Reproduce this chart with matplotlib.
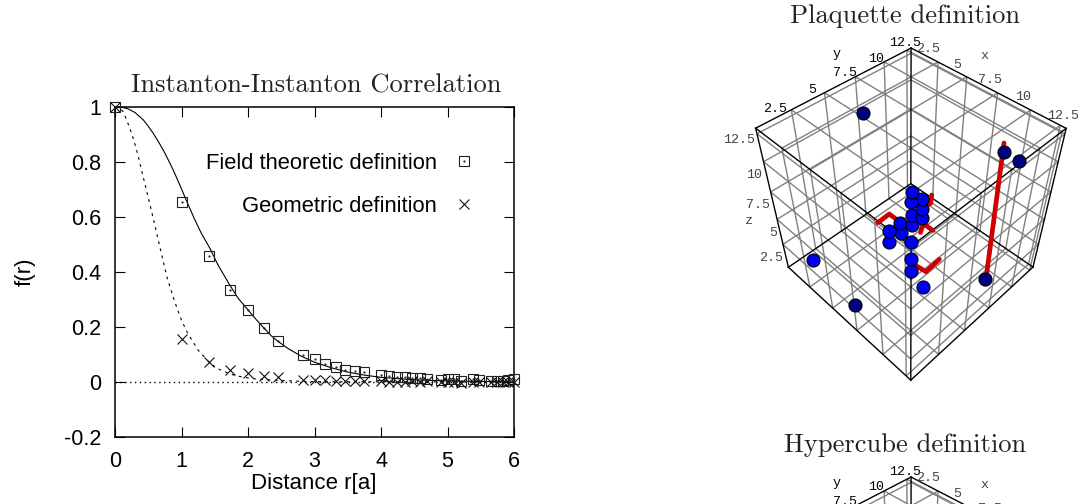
import numpy as np
import matplotlib
matplotlib.use("Agg")
import matplotlib.pyplot as plt
from matplotlib.legend_handler import HandlerTuple

# ---- correlation data ----
dist = [0.0, 1.0, 1.414, 1.732, 2.0, 2.236, 2.449, 2.828, 3.0, 3.162, 3.317, 3.464, 3.606, 3.742,
        4.0, 4.123, 4.243, 4.359, 4.472, 4.583, 4.690, 4.899, 5.0, 5.099, 5.196, 5.385, 5.477,
        5.657, 5.745, 5.831, 5.916, 6.0]
field_vals = [1.0, 0.655, 0.46, 0.335, 0.262, 0.197, 0.15, 0.098, 0.082, 0.065, 0.055, 0.045, 0.04, 0.035,
              0.027, 0.022, 0.02, 0.017, 0.016, 0.013, 0.012, 0.008, 0.012, 0.012, 0.004, 0.01, 0.008,
              0.005, 0.004, 0.003, 0.006, 0.01]
geom_vals = [1.0, 0.158, 0.072, 0.043, 0.033, 0.022, 0.019, 0.008, 0.007, 0.006, 0.005, 0.005, 0.004, 0.004,
             0.002, 0.001, 0.001, 0.001, 0.002, 0.001, 0.002, 0.001, 0.0, 0.0, -0.002, 0.0, 0.0,
             0.0, 0.0, -0.001, 0.0, 0.0]
solid_r = [0.0, 0.06, 0.125, 0.2, 0.3, 0.426, 0.5, 0.576, 0.65, 0.727, 0.8, 0.877, 0.95, 1.03,
           1.1, 1.2, 1.3, 1.43, 1.55, 1.72, 1.85, 2.0, 2.12, 2.236, 2.35, 2.45, 2.6, 2.8, 3.0, 3.25, 3.5,
           3.75, 4.0, 4.5, 5.0, 5.5, 6.0]
solid_f = [1.0, 0.9995, 0.998, 0.993, 0.98, 0.953, 0.93, 0.904, 0.875, 0.843, 0.808, 0.77, 0.73, 0.685,
           0.645, 0.59, 0.54, 0.485, 0.425, 0.355, 0.305, 0.262, 0.228, 0.197, 0.168, 0.148, 0.122, 0.094, 0.072, 0.052, 0.036,
           0.025, 0.017, 0.008, 0.004, 0.002, 0.0]
dash_r = [0.0, 0.06, 0.125, 0.18, 0.25, 0.3, 0.35, 0.42, 0.49, 0.57, 0.65, 0.72, 0.786, 0.866, 0.93, 1.0, 1.08, 1.25, 1.4, 1.53,
          1.7, 1.83, 2.07, 2.5, 3.0, 6.0]
dash_f = [1.0, 0.997, 0.983, 0.95, 0.904, 0.865, 0.82, 0.75, 0.68, 0.6, 0.516, 0.445, 0.377, 0.316, 0.27, 0.225, 0.183, 0.116, 0.076, 0.05,
          0.032, 0.022, 0.012, 0.005, 0.001, 0.0]
x_ticks = [0, 1, 2, 3, 4, 5, 6]
y_ticks = [-0.2, 0, 0.2, 0.4, 0.6, 0.8, 1]
y_tick_labels = ["-0.2", "0", "0.2", "0.4", "0.6", "0.8", "1"]

# ---- lattice views ----
grid_levels = [2.5, 5.0, 7.5, 10.0, 12.1]
box = 12.5
# sphere positions as they appear on the projected view
sphere_u = [862.7, 1004.0, 1019.3, 813.0, 855.0, 985.3, 922.7, 911.3, 911.3, 911.3, 889.3, 900.7, 889.3,
            900.3, 911.7, 911.5, 922.0, 921.7, 921.5, 911.3, 911.5]
sphere_v = [112.7, 152.3, 161.0, 259.7, 305.0, 279.0, 287.2, 271.3, 259.3, 241.5, 241.7, 233.3, 231.0,
            222.5, 224.7, 215.0, 218.0, 209.2, 198.8, 202.3, 192.2]
sphere_dark = [1, 1, 1, 0, 1, 1, 0, 0, 0, 0, 0, 0, 0, 0, 0, 0, 0, 0, 0, 0, 0]
link_paths = [
    ([1004.0, 985.3], [143.0, 284.0]),
    ([931.7, 930.7, 925.0], [195.0, 203.3, 206.0]),
    ([877.7, 889.3, 900.0], [222.7, 214.0, 222.0]),
    ([920.5, 923.3, 932.7], [232.5, 223.3, 230.5]),
    ([915.0, 926.0, 939.3], [265.0, 271.7, 259.3]),
]
cube_labels = [
    ("12.5", 905.0, 43.0, "k"), ("2.5", 928.3, 49.3, "g"), ("y", 836.7, 54.0, "k"), ("10", 876.0, 58.5, "k"),
    ("x", 984.3, 55.7, "g"), ("5", 957.3, 64.7, "g"), ("7.5", 845.0, 73.3, "k"), ("7.5", 990.0, 80.0, "g"),
    ("5", 812.0, 90.0, "k"), ("10", 1023.3, 97.0, "g"), ("2.5", 775.3, 108.7, "k"), ("12.5", 1063.3, 116.0, "g"),
    ("12.5", 739.3, 140.0, "g"), ("10", 754.3, 174.7, "g"), ("7.5", 758.3, 205.0, "g"), ("z", 749.3, 220.7, "g"),
    ("5", 772.7, 233.3, "g"), ("2.5", 771.0, 258.3, "g"),
]
panel_titles = ["Plaquette definition", "Hypercube definition"]
panel_offsets = [0, 429]

# camera calibration: box corners -> view position
corner_xyz = np.array([[0, box, box], [box, box, box], [0, 0, box], [box, 0, box],
                       [0, box, 0], [box, box, 0], [0, 0, 0], [box, 0, 0]], float)
corner_uv = np.array([[911, 48], [1066, 128], [756, 128], [911, 247],
                      [911, 184], [1033, 267], [788, 267], [911, 380]], float)
rows = []
for (X, Y, Z), (u, v) in zip(corner_xyz, corner_uv):
    rows.append([X, Y, Z, 1, 0, 0, 0, 0, -u * X, -u * Y, -u * Z, -u])
    rows.append([0, 0, 0, 0, X, Y, Z, 1, -v * X, -v * Y, -v * Z, -v])
P = np.linalg.svd(np.array(rows))[2][-1].reshape(3, 4)


def project(pts):
    h = np.c_[np.asarray(pts, float), np.ones(len(pts))] @ P.T
    return h[:, 0] / h[:, 2], h[:, 1] / h[:, 2]


fig = plt.figure(figsize=(10.8, 5.04), dpi=100, facecolor="white")
W, H = 1080.0, 504.0

# ---------- left chart ----------
ax = fig.add_axes([115 / W, 1 - 437 / H, (514 - 115) / W, (437 - 107) / H])
sans = "Liberation Sans"
serif = "cmr10"
ax.set_xlim(0, 6)
ax.set_ylim(-0.2, 1)
ax.axhline(0, color="k", lw=1, ls=(0, (1, 2.5)), zorder=1)
ax.plot(solid_r, solid_f, color="k", lw=0.8, zorder=2)
ax.plot(dash_r, dash_f, color="k", lw=0.8, ls=(0, (2.5, 4)), zorder=2)
sq, = ax.plot(dist, field_vals, ls="none", marker="s", ms=7.2, mfc="none", mec="#222222", mew=0.8,
              clip_on=False, zorder=3)
sd, = ax.plot(dist, field_vals, ls="none", marker=".", ms=1.2, color="#222222", clip_on=False, zorder=3)
cr, = ax.plot(dist, geom_vals, ls="none", marker="x", ms=7.2, color="#111111", mew=0.8,
              clip_on=False, zorder=3)
ax.set_xticks(x_ticks)
ax.set_yticks(y_ticks)
ax.set_yticklabels(y_tick_labels)
ax.tick_params(direction="in", length=7, width=0.8, top=True, right=True, labelsize=15.5)
ax.tick_params(axis="x", pad=10)
ax.tick_params(axis="y", pad=10)
for t in ax.get_xticklabels() + ax.get_yticklabels():
    t.set_fontfamily(sans)
for s in ax.spines.values():
    s.set_linewidth(1.1)
fig.text(314 / W, 1 - 483 / H, "Distance r[a]", family=sans, fontsize=16, ha="center", va="center")
fig.text(25 / W, 1 - 272 / H, "f(r)", family=sans, fontsize=16, rotation=90, ha="center", va="center")
fig.text(316 / W, 1 - 86 / H, "Instanton-Instanton Correlation", family=serif, fontsize=19.1,
         ha="center", va="center", color="#222222")
leg = ax.legend([(sq, sd), cr], ["Field theoretic definition", "Geometric definition"],
                handler_map={tuple: HandlerTuple(ndivide=1, pad=0)}, markerfirst=False, frameon=False,
                loc="upper right", bbox_to_anchor=(480 / W, 1 - 153 / H), bbox_transform=fig.transFigure,
                borderpad=0, borderaxespad=0, labelspacing=1.0, handlelength=1.5, handletextpad=0.45,
                prop={"family": sans, "size": 15.8})

# ---------- lattice views ----------
view = fig.add_axes([0, 0, 1, 1], facecolor="none")
view.set_xlim(0, W)
view.set_ylim(H, 0)
view.axis("off")
edges = [(0, 1), (0, 2), (1, 3), (2, 3), (4, 5), (4, 6), (5, 7), (6, 7), (0, 4), (1, 5), (2, 6), (3, 7)]
for off, title in zip(panel_offsets, panel_titles):
    view.text(905, 16 + off, title, family=serif, fontsize=19.1, ha="center", va="center", color="#222222")
    # grid on the six faces
    for axis in range(3):
        others = [a for a in range(3) if a != axis]
        for side in (0.0, box):
            for k, lv_axis in enumerate(others):
                free_axis = others[1 - k]
                for lv in grid_levels:
                    a = np.zeros(3)
                    b = np.zeros(3)
                    a[axis] = b[axis] = side
                    a[lv_axis] = b[lv_axis] = lv
                    a[free_axis] = 0
                    b[free_axis] = box
                    u, v = project([a, b])
                    view.plot(u, v + off, color="#808080", lw=1.0, zorder=1, solid_capstyle="butt")
    for i, j in edges:
        u, v = project(corner_xyz[[i, j]])
        view.plot(u, v + off, color="k", lw=1.0, zorder=2)
    for txt, lu, lv, tone in cube_labels:
        view.text(lu, lv + off, txt, family="Liberation Mono", fontsize=9.6, ha="center", va="center",
                  color="#000000" if tone == "k" else "#444444", zorder=6)

for lu, lv in link_paths:
    view.plot(lu, lv, color="#cc0000", lw=3.4, solid_capstyle="round", solid_joinstyle="round", zorder=3)
for u, v, d in zip(sphere_u, sphere_v, sphere_dark):
    view.plot([u], [v], ls="none", marker="o", ms=9.4, mfc="#00007f" if d else "#0000f0", mec="k", mew=0.8, zorder=4)

fig.savefig("out.png", dpi=100)
